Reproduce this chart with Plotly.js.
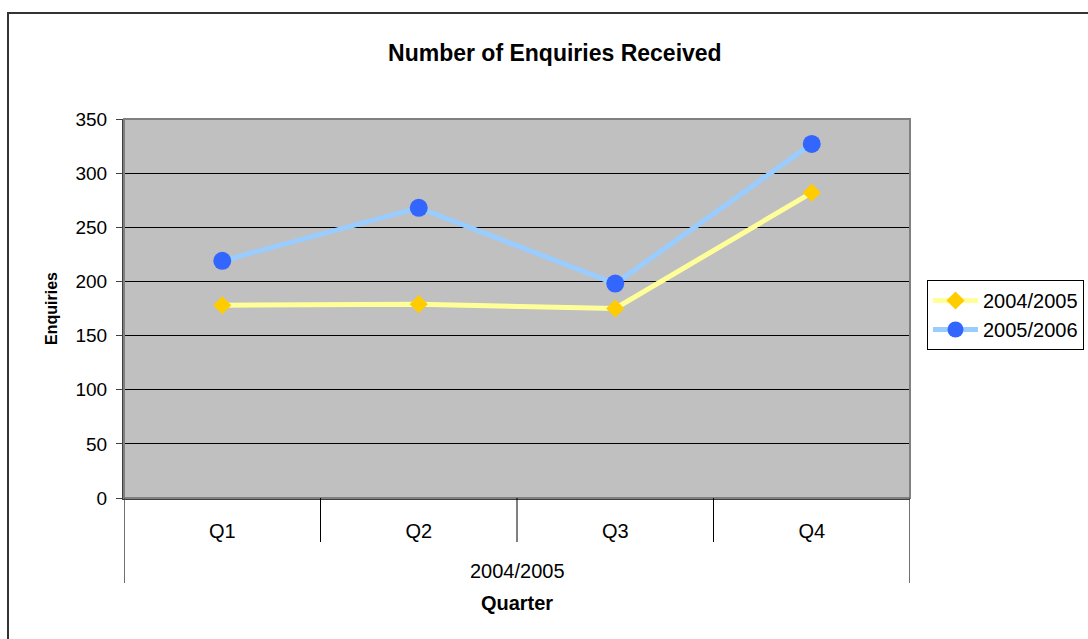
<!DOCTYPE html>
<html>
<head>
<meta charset="utf-8">
<script src="https://cdn.plot.ly/plotly-3.0.1.min.js"></script>
<style>
  html, body { margin: 0; padding: 0; background: #fff; overflow: hidden; }
  #chart { width: 1088px; height: 639px; }
  #frame { position: absolute; left: 7px; top: 12px; width: 2000px; height: 2000px;
           border-left: 2px solid #333; border-top: 2px solid #333; pointer-events: none; }
</style>
</head>
<body>
<div id="chart"></div>
<div id="frame"></div>
<script>
const yearGroup = "2004/2005";
const quarters = ["Q1", "Q2", "Q3", "Q4"];
const series0Name = "2004/2005";
const series0Values = [178, 179, 175, 282];
const series1Name = "2005/2006";
const series1Values = [219, 268, 198, 327];
const yTicks = [0, 50, 100, 150, 200, 250, 300, 350];

const font = "Liberation Sans, Arial, sans-serif";
const plotH = 379;
const plotW = 786;

const traces = [
  {
    type: "scatter", mode: "lines+markers", name: series0Name,
    x: quarters, y: series0Values,
    line: { color: "#FFFF99", width: 5 },
    marker: { symbol: "diamond", size: 14, color: "#FFCC00" }
  },
  {
    type: "scatter", mode: "lines+markers", name: series1Name,
    x: quarters, y: series1Values,
    line: { color: "#99CCFF", width: 5 },
    marker: { symbol: "circle", size: 18, color: "#3366FF" }
  }
];

// category boundary dividers (inner: short, outer edges: long)
const shapes = [
  { type: "rect", xref: "paper", yref: "paper", x0: 0, x1: 1, y0: 0, y1: 1,
    line: { color: "#808080", width: 2 }, layer: "above" }
];
for (let i = 0; i <= quarters.length; i++) {
  const edge = (i === 0 || i === quarters.length);
  shapes.push({
    type: "line", xref: "x", yref: "paper",
    x0: i - 0.5, x1: i - 0.5, y0: 0, y1: edge ? -85 / plotH : -44 / plotH,
    line: { color: edge ? "#404040" : "#000", width: edge ? 1.5 : 1 }
  });
}

const layout = {
  width: 1088, height: 639,
  margin: { l: 124, r: 1088 - 124 - plotW, t: 119, b: 141, autoexpand: false },
  paper_bgcolor: "#ffffff",
  plot_bgcolor: "#C0C0C0",
  font: { family: font, color: "#000", size: 19 },
  title: {
    text: "<b>Number of Enquiries Received</b>",
    font: { family: font, size: 23, color: "#000" },
    x: 0.51, xref: "container", xanchor: "center",
    y: 1 - 53 / 639, yref: "container", yanchor: "middle"
  },
  xaxis: {
    type: "category",
    categoryorder: "array", categoryarray: quarters,
    range: [-0.5, quarters.length - 0.5],
    showgrid: false,
    showline: true, linecolor: "#404040", linewidth: 2,
    ticks: "",
    ticklabelstandoff: 14,
    tickfont: { family: font, size: 20, color: "#000" },
    title: { text: "<b>Quarter</b>", font: { family: font, size: 20, color: "#000" }, standoff: 55 },
    zeroline: false,
    automargin: false
  },
  yaxis: {
    range: [0, 350],
    tickvals: yTicks,
    ticktext: yTicks.map(String),
    showgrid: true, gridcolor: "#000", gridwidth: 1,
    showline: true, linecolor: "#404040", linewidth: 2,
    ticks: "outside", ticklen: 6, tickcolor: "#404040", tickwidth: 1,
    ticklabelstandoff: 5,
    tickfont: { family: font, size: 19, color: "#000" },
    title: { text: "<b>Enquiries</b>", font: { family: font, size: 16, color: "#000" }, standoff: 14 },
    zeroline: false,
    automargin: false
  },
  annotations: [
    { text: yearGroup, xref: "x", yref: "paper",
      x: (quarters.length - 1) / 2, y: -(571 - 498) / plotH,
      xanchor: "center", yanchor: "middle", showarrow: false,
      font: { family: font, size: 20, color: "#000" } }
  ],
  shapes: shapes,
  legend: {
    xref: "container", yref: "container",
    x: 927 / 1088, xanchor: "left",
    y: 1 - 280 / 639, yanchor: "top",
    bgcolor: "#fff", bordercolor: "#000", borderwidth: 1,
    font: { family: font, size: 20, color: "#000" },
    itemwidth: 45, tracegroupgap: 0
  },
  showlegend: true
};

Plotly.newPlot("chart", traces, layout, { displayModeBar: false, staticPlot: true });
</script>
</body>
</html>
